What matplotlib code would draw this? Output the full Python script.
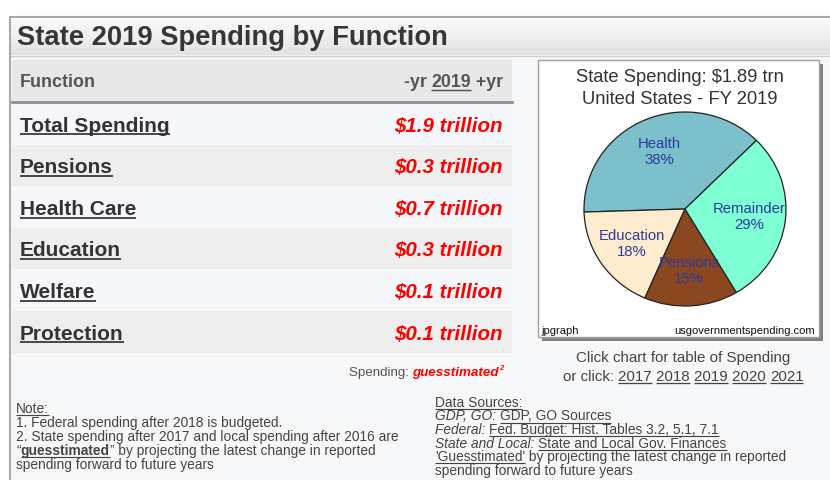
import numpy as np
import matplotlib
matplotlib.use('Agg')
import matplotlib.pyplot as plt
from matplotlib.patches import Rectangle
from matplotlib.colors import LinearSegmentedColormap

plt.rcParams['font.family'] = ['Liberation Sans', 'DejaVu Sans']

W, H = 830, 480

# table: spending by function, $ trillion
functions = ['Total Spending', 'Pensions', 'Health Care', 'Education', 'Welfare', 'Protection']
spending = [1.9, 0.3, 0.7, 0.3, 0.1, 0.1]

# pie: share of state spending, percent
pie_labels = ['Health', 'Education', 'Pensions', 'Remainder']
pie_shares = [38, 18, 15, 29]
pie_colors = ['#7bc0ca', '#ffebcd', '#8b4720', '#7fffd4']
pie_total = 1.89

years = ['2017', '2018', '2019', '2020', '2021']

fig = plt.figure(figsize=(W / 100, H / 100), dpi=100)
ax = fig.add_axes([0, 0, 1, 1])
renderer = fig.canvas.get_renderer()


def width(t):
    bb = t.get_window_extent(renderer)
    return bb.width


def run(x, y, parts, ha='left'):
    # parts: (text, fontsize, color, weight, style, underline)
    texts = []
    for s, size, color, weight, style, ul in parts:
        t = ax.text(0, y, s, fontsize=size, color=color, fontweight=weight,
                    fontstyle=style, va='baseline', ha='left')
        texts.append((t, size, color, ul))
    widths = [width(t) for t, *_ in texts]
    total = sum(widths)
    cx = x - total if ha == 'right' else (x - total / 2 if ha == 'center' else x)
    for (t, size, color, ul), w in zip(texts, widths):
        t.set_x(cx)
        if ul:
            s = t.get_text().rstrip()
            off = size * 0.12 + 1
            ax.plot([cx, cx + w - (len(t.get_text()) - len(s)) * size * 0.386],
                    [y + off, y + off], color=color, lw=max(0.8, size / 12),
                    solid_capstyle='butt')
        cx += w
    return texts


# page panels
ax.add_patch(Rectangle((10, 17), 830, 470, fc='#f7f8fa', ec='#a9a9a9', lw=1.5))
grad = LinearSegmentedColormap.from_list('bar', ['#fbfbfb', '#e3e3e3'])
ax.imshow(np.linspace(0, 1, 50).reshape(-1, 1), cmap=grad, extent=(11, 830, 55, 18),
          aspect='auto', zorder=1)
ax.plot([11, 830], [55.5, 55.5], color='#cfcfcf', lw=1)

# table header
ax.add_patch(Rectangle((12, 60), 500, 41, fc='#e8e8e8', ec='none'))
ax.plot([12, 512], [102, 102], color='#8e8e8e', lw=2)

row_h = 41.6
for i in range(len(functions)):
    fc = '#f6f7fb' if i % 2 == 0 else '#eeeeee'
    ax.add_patch(Rectangle((12, 103 + i * row_h), 500, row_h, fc=fc, ec='none'))

# title
ax.text(17, 45, 'State 2019 Spending by Function', fontsize=19.7, fontweight='bold',
        color='#363636', va='baseline')

run(20, 87, [('Function', 12.9, '#555555', 'bold', 'normal', False)])
run(503, 87, [('-yr ', 12.8, '#555555', 'bold', 'normal', False),
              ('2019', 12.8, '#555555', 'bold', 'normal', True),
              (' +yr', 12.8, '#555555', 'bold', 'normal', False)], ha='right')

for i, (name, val) in enumerate(zip(functions, spending)):
    yb = 103 + i * row_h + 28.5
    run(20, yb, [(name, 15, '#333333', 'bold', 'normal', True)])
    run(503, yb, [(f'${val:.1f} trillion', 14.8, '#ff0000', 'bold', 'italic', False)],
        ha='right')

run(503, 376, [('Spending: ', 9.6, '#555555', 'normal', 'normal', False),
               ('guesstimated', 9.6, '#ff0000', 'bold', 'italic', False),
               ('2', 5.5, '#ff0000', 'bold', 'italic', False)], ha='right')
ax.texts[-1].set_y(370)

# chart frame with drop shadow
ax.add_patch(Rectangle((542, 64), 281, 277, fc='#808080', ec='none'))
ax.add_patch(Rectangle((538, 60), 281, 277, fc='white', ec='#a0a0a0', lw=1))
ax.text(680, 82, f'State Spending: ${pie_total} trn', fontsize=13.2, color='#333333',
        ha='center', va='baseline')
ax.text(680, 104, 'United States - FY 2019', fontsize=13.2, color='#333333',
        ha='center', va='baseline')
ax.text(541, 334, 'jpgraph', fontsize=8, color='#111111', va='baseline')
ax.text(815, 334, 'usgovernmentspending.com', fontsize=8, color='#111111',
        ha='right', va='baseline')

run(683, 362, [('Click chart for table of Spending', 10.9, '#444444', 'normal',
                'normal', False)], ha='center')
parts = [('or click: ', 10.9, '#444444', 'normal', 'normal', False)]
for k, yr in enumerate(years):
    label = yr + (' ' if k < len(years) - 1 else '')
    parts.append((label, 10.9, '#444444', 'normal', 'normal', True))
run(683, 381, parts, ha='center')

# notes
fs = 9.9
gc = '#444444'
run(16, 413, [('Note:', fs, gc, 'normal', 'normal', True)])
run(16, 427, [('1. Federal spending after 2018 is budgeted.', fs, gc, 'normal', 'normal', False)])
run(16, 441, [('2. State spending after 2017 and local spending after 2016 are', fs, gc,
               'normal', 'normal', False)])
run(16, 455, [('\u201c', fs, gc, 'normal', 'normal', False),
              ('guesstimated', fs, gc, 'bold', 'normal', True),
              ('\u201d by projecting the latest change in reported', fs, gc, 'normal',
               'normal', False)])
run(16, 469, [('spending forward to future years', fs, gc, 'normal', 'normal', False)])

sx = 435
run(sx, 407, [('Data Sources:', fs, gc, 'normal', 'normal', True)])
run(sx, 420.5, [('GDP, GO: ', fs, gc, 'normal', 'italic', False),
                ('GDP, GO Sources', fs, gc, 'normal', 'normal', True)])
run(sx, 434, [('Federal: ', fs, gc, 'normal', 'italic', False),
              ('Fed. Budget: Hist. Tables 3.2, 5.1, 7.1', fs, gc, 'normal', 'normal', True)])
run(sx, 447.5, [('State and Local: ', fs, gc, 'normal', 'italic', False),
                ('State and Local Gov. Finances', fs, gc, 'normal', 'normal', True)])
run(sx, 461, [("'Guesstimated'", fs, gc, 'normal', 'normal', True),
              (' by projecting the latest change in reported', fs, gc, 'normal',
               'normal', False)])
run(sx, 474.5, [('spending forward to future years', fs, gc, 'normal', 'normal', False)])

ax.set_xlim(0, W)
ax.set_ylim(H, 0)
ax.axis('off')

# pie chart
cx, cy, rx, ry = 685, 209, 101, 97
pad = 1.03
pax = fig.add_axes([(cx - rx * pad) / W, 1 - (cy + ry * pad) / H,
                    2 * rx * pad / W, 2 * ry * pad / H])
wedges, texts = pax.pie(pie_shares, colors=pie_colors, startangle=45, counterclock=True,
                        labels=[f'{n}\n{p}%' for n, p in zip(pie_labels, pie_shares)],
                        labeldistance=0.64,
                        wedgeprops=dict(edgecolor='#222222', linewidth=0.9),
                        textprops=dict(fontsize=10.7, color='#2b3c9b'))
for t in texts:
    t.set_ha('center')
    t.set_va('center')
    t.set_linespacing(1.15)
pax.set_aspect('auto')
pax.set_xlim(-pad, pad)
pax.set_ylim(-pad, pad)
pax.axis('off')

fig.savefig('out.png', dpi=100)
